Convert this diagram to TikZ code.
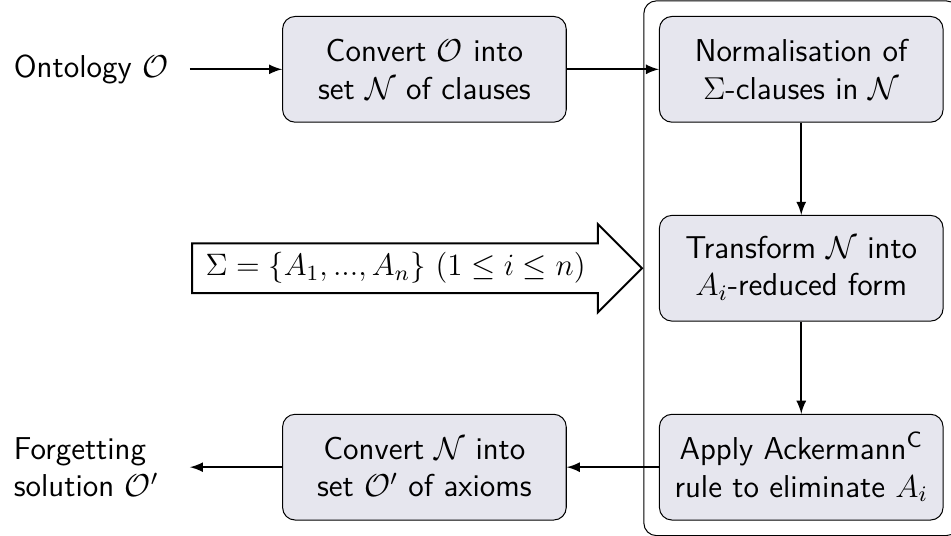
\RequirePackage{fix-cm}
\documentclass[tikz,border=0pt]{standalone}
\usepackage{amsmath,amssymb}
\usepackage{xcolor}
\usepackage{tikz}
\usetikzlibrary{positioning,fit,shapes.arrows}

\definecolor{procfill}{RGB}{230,230,238}

\begin{document}
\begin{tikzpicture}[node distance=1.29cm,
    every node/.style={font=\fontsize{12.6pt}{15pt}\selectfont\sffamily},
    proc/.style={draw, rounded corners=5pt, fill=procfill, align=center,
      minimum width=3.97cm, minimum height=1.48cm},
    io/.style={text width=2.34cm, align=left},
    flow/.style={thick, -latex}]
  \useasboundingbox (0,0) rectangle (13.31,-7.49);
  % --- top row: input and clausal form ---
  \node[proc] (conv) at (5.94,-0.97) {Convert $\mathcal{O}$ into\\set $\mathcal{N}$ of clauses};
  \node[io, left=of conv] (onto) {Ontology $\mathcal{O}$};
  \node[proc, right=of conv] (norm) {Normalisation of\\$\Sigma$-clauses in $\mathcal{N}$};
  % --- elimination steps, repeated per symbol ---
  \node[proc, below=of norm] (trans) {Transform $\mathcal{N}$ into\\$A_i$-reduced form};
  \node[proc, below=of trans] (ack) {Apply Ackermann$^{\mathsf{C}}$\\rule to eliminate $A_i$};
  \node[draw, rounded corners=5pt, inner sep=6pt, fit=(norm)(ack)] (loop) {};
  % --- bottom row: back to axioms ---
  \node[proc, left=of ack] (back) {Convert $\mathcal{N}$ into\\set $\mathcal{O}'$ of axioms};
  \node[io, left=of back] (forget) {Forgetting\\solution $\mathcal{O}'$};
  % Signature fed into the loop (extra room before the head)
  \node[single arrow, draw, thick, single arrow head extend=0.27cm, anchor=tip,
    inner xsep=5pt, font=\fontsize{12.35pt}{15pt}\selectfont]
    (sig) at (loop.west |- trans) {$\Sigma = \{A_1, ..., A_n\}$ $(1 \leq i \leq n)\hspace{0.25cm}$};

  \draw[flow] (onto) -- (conv);
  \draw[flow] (conv) -- (norm);
  \draw[flow] (norm) -- (trans);
  \draw[flow] (trans) -- (ack);
  \draw[flow] (ack) -- (back);
  \draw[flow] (back) -- (forget);
\end{tikzpicture}
\end{document}
